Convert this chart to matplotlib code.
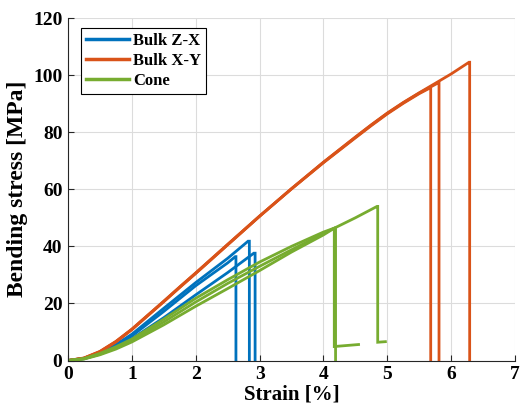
import matplotlib
matplotlib.use("Agg")
import matplotlib.pyplot as plt

# Three-point bending tests: strain [%] vs. bending stress [MPa] per specimen
zx_strain = [
    [0, 0.25, 0.5, 0.75, 1.0, 1.5, 2.0, 2.5, 2.82, 2.84, 2.84],
    [0, 0.25, 0.5, 0.75, 1.0, 1.5, 2.0, 2.5, 2.62, 2.63, 2.63],
    [0, 0.25, 0.5, 0.75, 1.0, 1.5, 2.0, 2.5, 2.91, 2.93, 2.93],
]
zx_stress = [
    [0, 0.8, 2.8, 5.6, 9.2, 18.3, 27.3, 35.8, 41.8, 41.8, 0],
    [0, 0.7, 2.6, 5.2, 8.6, 17.2, 26.2, 34.2, 36.4, 36.4, 0],
    [0, 0.6, 2.3, 4.6, 7.6, 15.0, 23.0, 30.8, 37.6, 37.6, 0],
]

xy_strain = [
    [0, 0.25, 0.5, 0.75, 1.0, 1.25, 1.5, 1.75, 2.0, 2.5, 3.0, 3.5, 4.0, 4.5,
     4.75, 5.0, 5.25, 5.5, 5.75, 6.0, 6.28, 6.29, 6.29],
    [0, 0.25, 0.5, 0.75, 1.0, 1.25, 1.5, 1.75, 2.0, 2.5, 3.0, 3.5, 4.0, 4.5,
     4.75, 5.0, 5.25, 5.5, 5.80, 5.81, 5.81],
    [0, 0.25, 0.5, 0.75, 1.0, 1.25, 1.5, 1.75, 2.0, 2.5, 3.0, 3.5, 4.0, 4.5,
     4.75, 5.0, 5.25, 5.5, 5.67, 5.68, 5.68],
]
xy_stress = [
    [0, 0.8, 3.0, 6.5, 10.8, 15.7, 20.6, 25.6, 30.5, 40.5, 50.5, 60.2, 69.5,
     78.3, 82.6, 86.7, 90.4, 93.8, 97.1, 100.4, 104.5, 104.5, 0],
    [0, 0.8, 3.1, 6.6, 10.9, 15.8, 20.7, 25.7, 30.6, 40.6, 50.6, 60.2, 69.4,
     78.2, 82.5, 86.6, 90.3, 93.7, 97.3, 97.3, 0],
    [0, 0.9, 3.2, 6.7, 11.0, 15.9, 20.8, 25.8, 30.7, 40.7, 50.6, 60.1, 69.3,
     78.0, 82.3, 86.4, 90.1, 93.5, 95.5, 95.5, 0],
]

cone_strain = [
    [0, 0.25, 0.5, 0.75, 1.0, 1.5, 2.0, 2.5, 3.0, 3.5, 4.0, 4.18, 4.19, 4.19],
    [0, 0.25, 0.5, 0.75, 1.0, 1.5, 2.0, 2.5, 3.0, 3.5, 4.0, 4.16, 4.17, 4.17,
     4.55],
    [0, 0.25, 0.5, 0.75, 1.0, 1.5, 2.0, 2.5, 3.0, 3.5, 4.0, 4.5, 4.84, 4.85,
     4.85, 4.97],
]
cone_stress = [
    [0, 0.5, 2.0, 4.0, 6.5, 12.5, 19.0, 25.2, 31.5, 38.0, 44.0, 46.5, 46.5, 0],
    [0, 0.7, 2.5, 4.8, 7.5, 14.5, 21.8, 28.3, 34.5, 40.0, 45.0, 46.3, 46.3,
     4.9, 5.6],
    [0, 0.6, 2.2, 4.4, 7.0, 13.5, 20.5, 27.0, 33.0, 38.8, 44.5, 50.0, 54.0,
     54.0, 6.4, 6.6],
]

groups = ["Bulk Z-X", "Bulk X-Y", "Cone"]
colors = ["#0072BD", "#D95319", "#77AC30"]

plt.rcParams["font.family"] = ["Liberation Serif", "DejaVu Serif"]
plt.rcParams["font.weight"] = "bold"

fig = plt.figure(figsize=(5.21, 4.15), dpi=100)
ax = fig.add_axes([0.1305, 0.1313, 0.858, 0.8253])

for name, col, xs, ys in zip(groups, colors,
                             [zx_strain, xy_strain, cone_strain],
                             [zx_stress, xy_stress, cone_stress]):
    for i, (x, y) in enumerate(zip(xs, ys)):
        ax.plot(x, y, color=col, lw=2.0, label=name if i == 0 else None,
                solid_joinstyle="miter")

ax.set_xlim(0, 7)
ax.set_ylim(0, 120)
ax.set_xticks(range(0, 8))
ax.set_yticks(range(0, 121, 20))
ax.grid(True, color="#dcdcdc", lw=0.8)
ax.set_axisbelow(True)
for s in ("top", "right"):
    ax.spines[s].set_visible(False)
for s in ("left", "bottom"):
    ax.spines[s].set_color("#262626")
    ax.spines[s].set_linewidth(0.8)
ax.tick_params(direction="in", length=4, width=0.8, color="#262626",
               labelsize=14, pad=4)
for lab in ax.get_xticklabels() + ax.get_yticklabels():
    lab.set_fontweight("bold")

ax.set_xlabel("Strain [%]", fontsize=15, fontweight="bold", labelpad=1)
ax.set_ylabel("Bending stress [MPa]", fontsize=17, fontweight="bold",
              labelpad=4)

leg = ax.legend(loc="upper left", bbox_to_anchor=(0.028, 0.971),
                borderaxespad=0, fancybox=False, framealpha=1,
                edgecolor="black", handlelength=2.6,
                handletextpad=0.25, labelspacing=0.25, borderpad=0.3,
                prop={"weight": "bold", "size": 12})
leg.get_frame().set_linewidth(0.8)
for line in leg.get_lines():
    line.set_linewidth(2.5)

fig.savefig("out.png", dpi=100)
